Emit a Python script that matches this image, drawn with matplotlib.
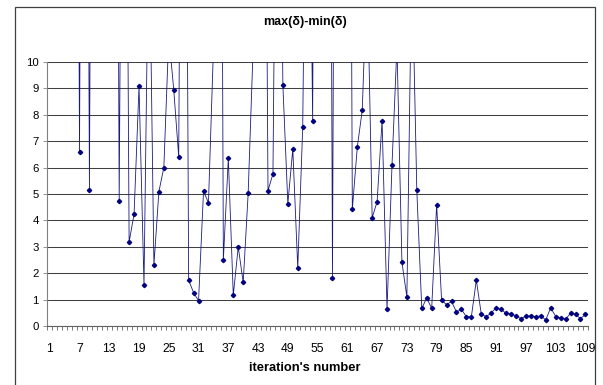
import matplotlib.pyplot as plt
from matplotlib.patches import Rectangle

plt.rcParams['font.family'] = ['Liberation Sans', 'DejaVu Sans']

# values above 10 run off the top of the chart (axis is fixed at 0..10)
big = 50
iterations = list(range(1, 110))
spread = [big, big, big, big, big, big, 6.60, big, 5.15, big,
          big, big, big, big, 4.75, 35, 3.18, 4.24, 9.09, 1.55,
          16, 2.31, 5.09, 6.00, 11, 8.94, 6.41, 40, 1.74, 1.26,
          0.96, 5.10, 4.67, 10.5, big, 2.50, 6.35, 1.16, 3.00, 1.65,
          5.02, 10.5, 40, 34, 5.13, 5.76, 27, 9.13, 4.63, 6.70,
          2.20, 7.55, 25, 7.78, big, big, big, 1.83, big, big,
          big, 4.42, 6.77, 8.17, 13.5, 4.10, 4.71, 7.78, 0.63, 6.10,
          10.6, 2.42, 1.10, 14, 5.14, 0.67, 1.06, 0.67, 4.60, 0.97,
          0.81, 0.93, 0.53, 0.63, 0.35, 0.35, 1.74, 0.45, 0.35, 0.50,
          0.69, 0.63, 0.48, 0.47, 0.38, 0.28, 0.38, 0.38, 0.35, 0.39,
          0.23, 0.69, 0.36, 0.31, 0.26, 0.48, 0.44, 0.28, 0.44]
xtick_labels = list(range(1, 110, 6))

fig = plt.figure(figsize=(6.03, 3.85), dpi=100)
fig.patches.append(Rectangle((0.0249, -0.1), 0.9618, 1.0818, transform=fig.transFigure,
                             fill=False, edgecolor='#404040', linewidth=0.9))

ax = fig.add_axes([0.0784, 0.1532, 0.8966, 0.6858])
ax.plot(iterations, spread, color='#1a1a80', linewidth=0.6,
        marker='D', markersize=2.2, markerfacecolor='#000080', markeredgecolor='#000080')

ax.set_xlim(0.5, 109.5)
ax.set_ylim(0, 10)
ax.set_yticks(range(0, 11))
ax.yaxis.grid(True, color='#404040', linewidth=0.75)
ax.set_axisbelow(True)

ax.set_xticks(xtick_labels)
ax.set_xticks([i + 0.5 for i in range(0, 110)], minor=True)
ax.tick_params(axis='x', which='major', length=0, labelsize=8.7, pad=12)
ax.tick_params(axis='x', which='minor', length=3, width=0.6, color='#606060')
ax.tick_params(axis='y', length=3, width=0.6, color='#808080', labelsize=8.2, pad=3)

for s in ['top', 'right']:
    ax.spines[s].set_visible(False)
ax.spines['left'].set_color('#808080')
ax.spines['bottom'].set_color('#606060')

fig.text(0.506, 0.943, 'max(δ)-min(δ)', ha='center', va='center', fontsize=9, fontweight='bold')
fig.text(0.506, 0.044, "iteration's number", ha='center', va='center', fontsize=9.3, fontweight='bold')

plt.savefig('out.png', dpi=100)
